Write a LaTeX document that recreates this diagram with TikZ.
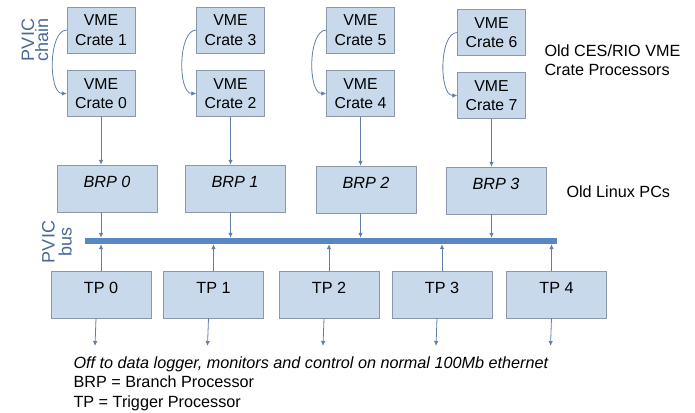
\documentclass[tikz,border=0pt]{standalone}
\usepackage{fontspec}
\setmainfont{Liberation Sans}
\usetikzlibrary{arrows.meta}
\definecolor{boxfill}{RGB}{201,217,236}
\definecolor{boxedge}{RGB}{140,152,170}
\definecolor{linkblue}{RGB}{96,128,168}
\definecolor{busblue}{RGB}{88,136,194}
\definecolor{pvictext}{RGB}{74,104,148}

\begin{document}
\begin{tikzpicture}[x=1pt,y=-1pt,
	font=\fontsize{16.2}{19}\selectfont,
	crate/.style={draw=boxedge,fill=boxfill,minimum width=68pt,minimum height=46pt,inner sep=0pt,align=center,font=\fontsize{15.8}{19.5}\selectfont},
	pc/.style={draw=boxedge,fill=boxfill,minimum width=100pt,minimum height=47pt,inner sep=0pt,text height=12pt,text depth=15pt},
	link/.style={draw=linkblue,line width=0.8pt,-{Latex[length=5pt,width=4.5pt]}}
	]
	\useasboundingbox (0,0) rectangle (695,412);

	% VME crates, two per branch
	\node[crate] (crate1) at (101,30) {VME\\Crate 1};
	\node[crate] (crate0) at (101,93.5) {VME\\Crate 0};
	\node[crate] (crate3) at (230.5,30) {VME\\Crate 3};
	\node[crate] (crate2) at (230.5,93.5) {VME\\Crate 2};
	\node[crate] (crate5) at (360.5,30) {VME\\Crate 5};
	\node[crate] (crate4) at (360.5,93.5) {VME\\Crate 4};
	\node[crate] (crate6) at (491.5,32.5) {VME\\Crate 6};
	\node[crate] (crate7) at (491.5,95.5) {VME\\Crate 7};

	\draw[link] (crate1.west) to[out=180,in=180,looseness=0.75] (crate0.west);
	\draw[link] (crate3.west) to[out=180,in=180,looseness=0.75] (crate2.west);
	\draw[link] (crate5.west) to[out=180,in=180,looseness=0.75] (crate4.west);
	\draw[link] (crate6.west) to[out=180,in=180,looseness=0.75] (crate7.west);

	% branch processors
	\node[pc] (brp0) at (107,188.5) {\itshape BRP 0};
	\node[pc] (brp1) at (235,188.5) {\itshape BRP 1};
	\node[pc] (brp2) at (366,189.5) {\itshape BRP 2};
	\node[pc] (brp3) at (496,190.5) {\itshape BRP 3};

	% the bus
	\node[fill=busblue,minimum width=472pt,minimum height=6pt,inner sep=0pt] (bus) at (321,241) {};

	\foreach \c/\b in {crate0/brp0,crate2/brp1,crate4/brp2,crate7/brp3}{
		\draw[link] (\c.south) -- (\c.south |- \b.north);
		\draw[link] (\b.south -| \c.south) -- (bus.north -| \c.south);
	}

	% trigger processors
	\foreach \i/\x in {0/101,1/213.5,2/329,3/442,4/556.5}{
		\node[pc] (tp\i) at (\x,294.5) {TP \i};
		\coordinate (out\i) at (\x-6,346);
		\draw[link] ([xshift=-5pt]tp\i.south) -- (out\i);
	}
	\foreach \i in {0,...,3}
		\draw[link] (tp\i.north) -- (bus.south -| tp\i.north);
	\coordinate (tp4in) at ([xshift=-5pt]tp4.north);
	\draw[link] (tp4in) -- (bus.south -| tp4in);

	% labels
	\node[rotate=90,align=center,text=pvictext,font=\fontsize{18}{14}\selectfont] (chainlbl) at (35,40) {PVIC\\chain};
	\node[rotate=90,align=center,text=pvictext,font=\fontsize{18}{17}\selectfont] (buslbl) at (57,242) {PVIC\\bus};
	\node[anchor=base west,align=left] (cratelbl) at (541,75) {Old CES/RIO VME\\Crate Processors};
	\node[anchor=base west] (pclbl) at (563,197) {Old Linux PCs};

	\node[anchor=base west,font=\fontsize{16.2}{19}\selectfont\itshape] (offtext) at (70,368) {Off to data logger, monitors and control on normal 100Mb ethernet};
	\node[anchor=base west] (brpkey) at (70,387) {BRP = Branch Processor};
	\node[anchor=base west] (tpkey) at (70,407) {TP = Trigger Processor};

\end{tikzpicture}
\end{document}
